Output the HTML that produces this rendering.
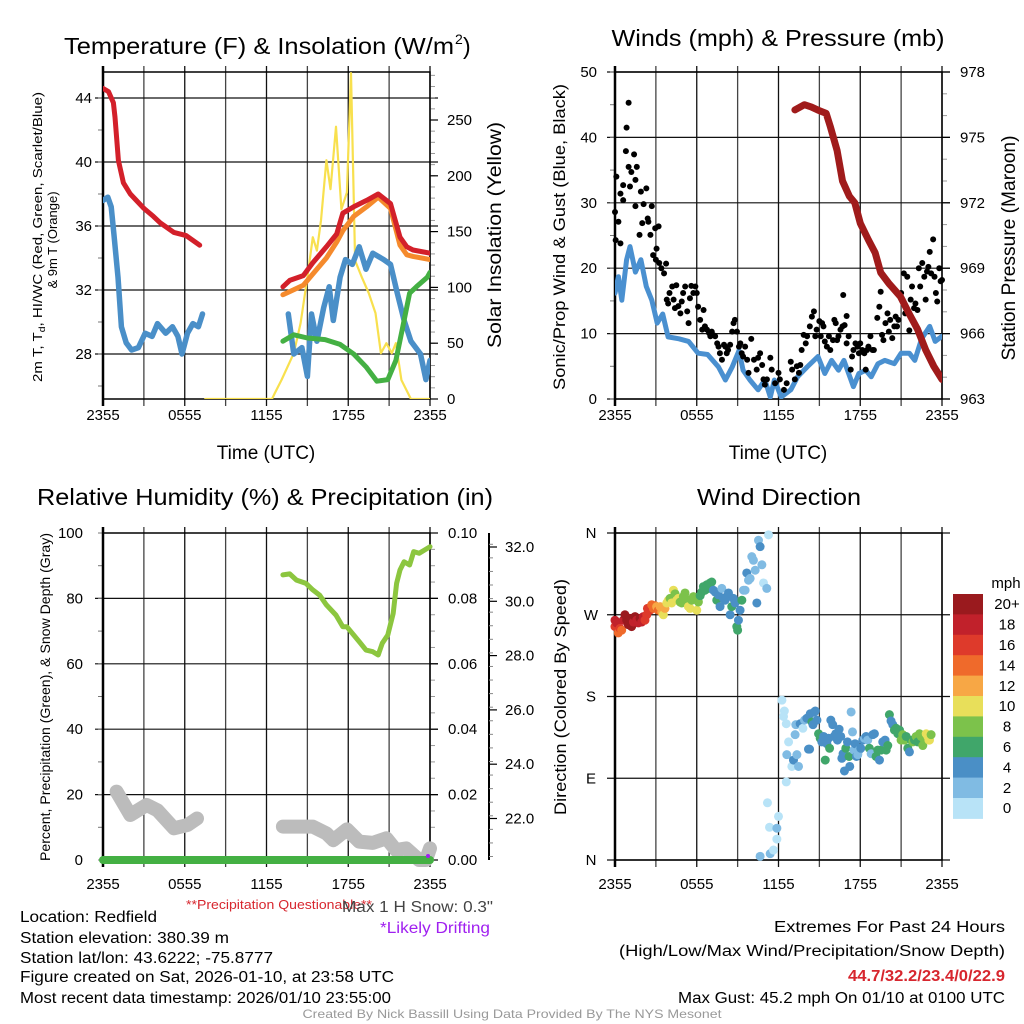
<!DOCTYPE html>
<html><head><meta charset="utf-8"><style>
html,body{margin:0;padding:0;background:#fff;}
svg{display:block;font-family:"Liberation Sans",sans-serif;}
</style></head><body>
<svg id="root" xmlns="http://www.w3.org/2000/svg" width="1024" height="1024" viewBox="0 0 1024 1024">
<defs>
<clipPath id="c1"><rect x="103" y="72" width="327" height="327"/></clipPath>
<clipPath id="c2"><rect x="615" y="72" width="327" height="327"/></clipPath>
<clipPath id="c3"><rect x="96" y="533" width="345" height="340"/></clipPath>
<clipPath id="c4"><rect x="608" y="526" width="341" height="341"/></clipPath>
</defs>
<g id="g1"></g>
<g id="g2"></g>
<g id="g3"></g>
<g id="g4"></g>

<text x="64" y="54" font-size="23" textLength="390" lengthAdjust="spacingAndGlyphs">Temperature (F) &amp; Insolation (W/m</text>
<text x="455" y="44" font-size="14">2</text>
<text x="463" y="54" font-size="23">)</text>
<text x="778" y="46" font-size="23" text-anchor="middle" textLength="333" lengthAdjust="spacingAndGlyphs">Winds (mph) &amp; Pressure (mb)</text>
<text x="265" y="505" font-size="23" text-anchor="middle" textLength="456" lengthAdjust="spacingAndGlyphs">Relative Humidity (%) &amp; Precipitation (in)</text>
<text x="779" y="505" font-size="23" text-anchor="middle" textLength="164" lengthAdjust="spacingAndGlyphs">Wind Direction</text>

<text transform="translate(42,237) rotate(-90)" font-size="13" text-anchor="middle" textLength="290" lengthAdjust="spacingAndGlyphs">2m T, T<tspan font-size="9" dy="3">d</tspan><tspan dy="-3">, HI/WC (Red, Green, Scarlet/Blue)</tspan></text>
<text transform="translate(57,240) rotate(-90)" font-size="13" text-anchor="middle">&amp; 9m T (Orange)</text>
<text transform="translate(501,235) rotate(-90)" font-size="19" text-anchor="middle" textLength="226" lengthAdjust="spacingAndGlyphs">Solar Insolation (Yellow)</text>
<text transform="translate(565,237) rotate(-90)" font-size="17" text-anchor="middle" textLength="306" lengthAdjust="spacingAndGlyphs">Sonic/Prop Wind &amp; Gust (Blue, Black)</text>
<text transform="translate(1015,248) rotate(-90)" font-size="19" text-anchor="middle" textLength="225" lengthAdjust="spacingAndGlyphs">Station Pressure (Maroon)</text>
<text transform="translate(50,697) rotate(-90)" font-size="14" text-anchor="middle" textLength="328" lengthAdjust="spacingAndGlyphs">Percent, Precipitation (Green), &amp; Snow Depth (Gray)</text>
<text transform="translate(566,697) rotate(-90)" font-size="17" text-anchor="middle" textLength="236" lengthAdjust="spacingAndGlyphs">Direction (Colored By Speed)</text>
<text x="266" y="459" font-size="19" text-anchor="middle">Time (UTC)</text>
<text x="778" y="459" font-size="19" text-anchor="middle">Time (UTC)</text>

<g font-size="15.5">
<text x="20" y="922" textLength="137" lengthAdjust="spacingAndGlyphs">Location: Redfield</text>
<text x="20" y="943" textLength="209" lengthAdjust="spacingAndGlyphs">Station elevation: 380.39 m</text>
<text x="20" y="963" textLength="253" lengthAdjust="spacingAndGlyphs">Station lat/lon: 43.6222; -75.8777</text>
<text x="20" y="982" textLength="374" lengthAdjust="spacingAndGlyphs">Figure created on Sat, 2026-01-10, at 23:58 UTC</text>
<text x="20" y="1003" textLength="371" lengthAdjust="spacingAndGlyphs">Most recent data timestamp: 2026/01/10 23:55:00</text>
</g>
<text x="186" y="909" font-size="12.5" fill="#d7262e" textLength="186" lengthAdjust="spacingAndGlyphs">**Precipitation Questionable**</text>
<text x="342" y="912" font-size="15.5" fill="#444" textLength="151" lengthAdjust="spacingAndGlyphs">Max 1 H Snow: 0.3"</text>
<text x="380" y="933" font-size="15.5" fill="#a020f0" textLength="110" lengthAdjust="spacingAndGlyphs">*Likely Drifting</text>
<g font-size="15.5" text-anchor="end">
<text x="1005" y="932" textLength="231" lengthAdjust="spacingAndGlyphs">Extremes For Past 24 Hours</text>
<text x="1005" y="956" textLength="386" lengthAdjust="spacingAndGlyphs">(High/Low/Max Wind/Precipitation/Snow Depth)</text>
<text x="1005" y="981" font-weight="bold" fill="#d7262e" textLength="157" lengthAdjust="spacingAndGlyphs">44.7/32.2/23.4/0/22.9</text>
<text x="1005" y="1003" textLength="327" lengthAdjust="spacingAndGlyphs">Max Gust: 45.2 mph On 01/10 at 0100 UTC</text>
</g>
<text x="512" y="1018" font-size="12" fill="#999" text-anchor="middle" textLength="419" lengthAdjust="spacingAndGlyphs">Created By Nick Bassill Using Data Provided By The NYS Mesonet</text>
</svg>
<script>
// ===== Panel 1 data =====
const tempH1 = [0,0.4,0.76,0.88,1.13,1.5,2.0,3.0,3.7,4.2,5.2,6.1,7.1];
const tempV1 = [44.6,44.4,43.7,42.8,40.1,38.7,38.0,37.1,36.6,36.2,35.6,35.4,34.8];
const tempH2 = [13.2,13.7,14.7,15.4,16.4,17.15,17.6,18.4,19.35,20.2,21.1,21.8,22.3,22.75,24];
const tempV2 = [32.2,32.6,32.9,33.7,34.7,35.5,36.8,37.2,37.6,38.0,37.4,35.3,34.7,34.5,34.3];
const t9mV2 = [31.7,31.9,32.3,33.0,34.0,35.0,35.7,36.6,37.2,37.8,37.1,34.8,34.2,34.1,33.9];
const dewH1 = [0,0.35,0.6,0.8,1.1,1.35,1.7,2.1,2.6,3.1,3.6,4.0,4.6,5.1,5.5,5.8,6.2,6.6,7.0,7.3];
const dewV1 = [37.6,37.8,37.2,35.5,32.8,29.7,28.7,28.25,28.4,29.3,29.1,29.9,29.3,29.7,29.1,28.0,29.3,29.9,29.7,30.5];
const dewH2 = [13.6,14.0,14.6,15.0,15.3,15.7,16.2,16.6,16.9,17.4,17.8,18.3,18.8,19.3,19.8,20.6,21.1,21.6,22.1,22.6,23.3,23.7,24];
const dewV2 = [30.5,28.0,28.4,26.6,30.5,28.8,30.9,32.2,30.1,32.8,33.9,33.6,34.7,33.3,34.3,33.9,33.6,31.8,30.1,28.8,28.0,26.4,27.6];
const hiwcH = [13.2,14.0,15.0,16.3,17.4,18.4,19.3,20.1,20.9,21.5,22.0,22.5,23.0,23.8,24];
const hiwcV = [28.8,29.2,29.0,28.9,28.6,28.0,27.2,26.3,26.4,27.6,29.7,31.8,32.2,32.8,33.1];
const solarH = [7.5,12.4,12.6,13.1,14.0,14.5,15.0,15.4,15.7,16.0,16.4,16.7,17.1,17.5,17.9,18.2,18.5,19.0,19.5,20.0,20.4,20.8,21.2,21.5,21.9,22.6,24];
const solarV = [0,0,5,17,41,68,109,145,133,160,214,188,244,170,185,292,124,109,95,77,41,50,41,50,17,0,0];
const tempTicks = [28,32,36,40,44];
const solarTicks = [0,50,100,150,200,250];
const timeLabels = ['2355','0555','1155','1755','2355'];

// ===== Panel 2 data =====
const windH = [0,0.25,0.5,0.85,1.1,1.5,1.9,2.3,2.7,3.1,3.5,3.9,4.7,5.4,6.1,6.8,7.6,8.1,8.6,9.1,9.4,9.9,10.5,11.0,11.4,11.7,12.2,12.9,13.4,14.1,14.9,15.4,15.9,16.4,16.8,17.5,17.9,18.4,18.8,19.3,19.8,20.5,21.0,21.6,22.0,22.5,23.1,23.5,24];
const windV = [16.2,18.7,15.1,21.3,23.3,19.4,21.3,17.2,15.1,11.6,13.0,9.5,9.2,8.8,7.0,6.8,4.9,2.9,4.9,7.4,4.4,2.9,1.4,2.9,0.3,2.9,0.3,1.4,3.4,4.9,6.5,3.9,5.9,4.4,5.9,1.9,3.9,4.4,3.4,5.4,5.9,5.4,7.0,7.0,5.9,9.2,11.1,8.8,9.6];
const gustH = [0,0.05,0.1,0.25,0.4,0.4,0.6,0.6,0.8,0.85,1.0,1.0,1.1,1.2,1.4,1.5,1.5,1.6,1.8,1.9,2.0,2.1,2.3,2.4,2.45,2.6,2.7,2.8,2.95,3.0,3.05,3.2,3.25,3.4,3.6,3.75,3.8,3.9,4.0,4.2,4.3,4.4,4.5,4.65,4.8,4.9,5.0,5.15,5.3,5.4,5.5,5.6,5.75,5.9,6.0,6.1,6.25,6.4,6.5,6.6,6.75,6.9,7.0,7.1,7.2,7.35,7.5,7.6,7.7,7.85,8.0,8.1,8.2,8.3,8.45,8.6,8.7,8.8,8.95,9.1,9.2,9.3,9.4,9.55,9.7,9.8,10.0,10.2,10.4,10.5,10.65,10.8,10.9,11.0,11.15,11.4,11.5,11.75,12.0,12.1,12.4,12.6,12.9,13.0,13.2,13.35,13.5,13.6,13.7,13.85,14.0,14.1,14.3,14.45,14.6,14.7,14.8,15.0,15.1,15.2,15.3,15.4,15.55,15.7,15.8,16.0,16.1,16.2,16.3,16.4,16.55,16.7,16.75,16.85,17.0,17.0,17.15,17.3,17.4,17.5,17.65,17.8,17.9,18.0,18.15,18.3,18.4,18.5,18.6,18.75,18.9,19.0,19.25,19.4,19.5,19.6,19.7,19.85,20.0,20.1,20.2,20.35,20.5,20.6,20.7,20.8,21.0,21.1,21.2,21.3,21.45,21.6,21.7,21.8,21.95,22.05,22.2,22.3,22.4,22.55,22.7,22.8,22.9,23.0,23.1,23.2,23.35,23.45,23.55,23.65,23.8,23.9,24.0];
const gustV = [28.6,24.3,34,27.1,31.4,23.8,32.7,30.4,37.9,41.5,45.3,35.5,32.5,34.7,37.4,29.5,33.5,35.5,25.1,31.7,26.9,29.8,32.2,27.6,27.1,25.1,29.5,22.0,26.1,21.3,23.0,26.4,20.8,20.0,19.2,20.7,15.2,14.6,16.2,17.2,15.2,13.9,17.4,14.2,13.1,14.9,16.2,17.2,13.4,11.6,15.4,17.3,16.2,17.2,16.2,14.1,12.1,10.6,13.6,11.1,10.6,10.1,9.6,10.3,9.8,9.6,8.5,8.0,7.0,6.0,8.3,8.0,7.0,7.5,8.3,10.3,11.6,12.1,10.3,8.0,8.5,7.0,6.5,8.0,6.0,4.0,9.2,6.0,4.5,6.3,7.0,5.2,3.0,2.2,3.0,6.3,4.5,2.4,4.0,3.0,1.4,2.4,5.7,4.5,3.0,5.0,4.0,5.2,7.5,9.8,8.5,9.6,11.1,12.6,13.4,9.6,10.6,11.9,9.6,11.6,11.1,8.8,8.0,9.6,7.5,9.0,12.1,11.6,9.0,9.6,10.6,11.1,15.9,11.3,12.7,8.5,9.6,4.5,6.5,7.5,8.5,8.0,7.0,8.5,7.5,7.0,4.5,7.5,8.0,9.6,7.5,7.5,12.4,14.1,16.4,9.8,9.0,11.6,13.1,10.3,12.1,9.3,11.1,12.6,11.1,12.1,16.2,15.2,19.2,13.1,18.7,10.5,15.2,17.2,13.9,14.6,13.6,20.0,17.2,20.8,18.7,15.2,19.5,20.2,22.5,19.2,24.4,18.7,16.2,14.9,20.0,18.0,18.2];
const presH = [13.2,13.9,14.4,14.9,15.5,15.8,16.3,16.7,17.2,17.6,18.0,18.6,19.1,19.5,20.1,20.95,21.6,22.2,22.8,23.4,24];
const presV = [976.26,976.5,976.4,976.25,976.1,975.5,974.4,973.0,972.3,972.0,971.06,970.3,969.7,968.8,968.3,967.7,966.9,966.2,965.25,964.5,963.9];
const windTicks = [0,10,20,30,40,50];
const presTicks = [963,966,969,972,975,978];

// ===== Panel 3 data =====
const rhH = [13.2,13.7,14.2,14.9,15.4,15.9,16.4,17.1,17.6,17.9,18.4,18.8,19.3,19.8,20.2,20.5,20.9,21.3,21.55,21.8,22.1,22.5,22.8,23.2,23.6,24];
const rhV = [87.2,87.5,85.6,84.6,82.6,81.0,78.0,74.9,71.3,71.3,68.8,66.8,64.2,63.7,62.7,66.3,68.8,75.4,84.6,88.7,91.2,90.2,94.3,93.8,94.8,95.8];
const snowH1 = [1.0,2.0,3.2,4.0,5.2,6.2,6.9];
const snowV1 = [22.99,22.13,22.5,22.3,21.64,21.76,22.0];
const snowH2 = [13.2,15.4,16.4,16.9,17.9,18.8,19.8,20.8,21.5,22.25,23.2,23.7,24];
const snowV2 = [21.7,21.7,21.45,21.2,21.6,21.15,21.1,21.27,20.84,20.9,20.47,20.47,20.9];
const precipH = [0,24];
const precipV = [0,0];
const rhTicks = [0,20,40,60,80,100];
const precipTicks = [0,0.02,0.04,0.06,0.08,0.10];
const snowTicks = [22,24,26,28,30,32];

// ===== Panel 4 data =====
const dirH = [0,0,0.12,0.24,0.37,0.49,0.61,0.73,0.86,0.98,1.10,1.22,1.35,1.47,1.59,1.71,1.84,1.96,2.08,2.2,2.33,2.38,2.57,2.69,2.82,2.94,3.06,3.18,3.31,3.43,3.55,3.67,3.80,3.92,4.04,4.16,4.29,4.41,4.53,4.65,4.78,4.9,5.02,5.14,5.27,5.39,5.51,5.63,5.76,5.88,6.0,6.12,6.25,6.37,6.49,6.61,6.74,6.86,6.98,7.1,7.22,7.35,7.47,7.59,7.71,7.84,7.96,8.08,8.2,8.33,8.45,8.57,8.69,8.82,8.94,9.0,9.06,9.18,9.31,9.43,9.55,9.67,9.8,9.92,10.04,10.16,10.29,10.41,10.53,10.65,10.78,10.9,11.14,11.27,
 10.65,11.39,11.63,11.19,11.34,11.88,11.88,12.0,12.57,
 12.25,12.43,12.37,12.57,12.74,12.61,12.98,13.1,13.22,13.27,13.35,13.47,13.59,13.79,13.91,14.08,14.2,14.28,14.33,14.45,14.53,14.63,14.7,14.82,14.94,15.06,15.18,15.31,15.43,15.55,15.67,15.75,15.84,15.98,16.08,16.2,16.33,16.45,16.57,16.65,16.74,16.84,16.94,17.06,17.18,17.23,17.33,17.43,17.53,17.62,17.72,17.82,17.92,18.04,18.19,18.31,18.43,18.55,18.67,18.8,18.92,19.04,19.16,19.29,19.41,19.53,19.65,19.82,19.9,20.02,20.14,20.26,20.39,20.51,20.63,20.76,20.88,21.0,21.12,21.25,21.37,21.49,21.61,21.74,21.86,21.98,22.1,22.22,22.35,22.47,22.59,22.71,22.84,22.96,23.04,23.08,23.2];
const dirV = [264,257,261,250,255,253,264,270,264,259,266,257,262,268,264,261,266,262,268,264,270,277,275,281,277,280,279,275,279,273,270,277,283,286,288,283,297,293,286,288,284,283,290,294,287,279,277,286,290,288,275,284,291,295,301,297,303,299,305,306,297,295,286,292,279,299,288,286,290,294,270,279,288,283,257,253,264,275,286,297,297,316,308,310,334,330,319,283,352,345,325,305,299,358,
 4,7,11,63,36,35,23,48,86,
 176,164,158,150,130,116,103,110,138,149,116,103,150,145,154,156,122,122,161,152,149,163,164,154,139,134,130,136,110,128,134,123,154,149,136,139,132,144,136,112,117,98,123,130,114,103,163,141,121,128,114,116,121,123,132,134,136,132,123,117,138,139,114,121,110,121,130,132,121,126,160,153,149,143,145,139,143,132,138,132,136,123,119,132,130,132,136,130,139,136,126,132,139,136,132,132,138,134,139,130,153,139,153];
const dirS = [18,16,18,14,16,14,18,20,20,20,20,20,18,20,18,18,20,18,18,16,16,16,16,14,14,14,12,14,12,12,10,12,10,10,8,10,10,8,10,10,8,8,8,8,8,10,10,8,8,8,10,8,6,6,6,6,6,6,6,6,4,4,6,4,4,2,4,4,4,4,4,6,4,4,6,6,4,4,6,2,2,4,2,2,2,2,2,4,2,4,2,0,2,0,
 2,2,0,0,0,2,0,0,0,
 0,0,0,0,0,2,0,4,2,2,2,2,4,0,2,4,4,4,4,6,4,4,4,4,6,6,4,4,6,4,4,6,4,4,4,4,4,4,4,4,4,4,6,4,6,4,2,2,2,4,4,2,2,4,4,2,4,2,6,2,4,4,6,6,4,6,4,4,6,6,6,4,4,6,6,6,6,8,8,8,6,6,4,6,8,6,8,6,8,8,8,8,10,10,10,10,8,10,8,8,8,10,8];
const dirLabels = ['N','E','S','W','N'];
const dirTickVals = [0,90,180,270,360];
const speedBins = [20,18,16,14,12,10,8,6,4,2,0];
const speedLabels = ['20+','18','16','14','12','10','8','6','4','2','0'];
const speedColors = ['#9a1a1e','#c1212b','#de3a2b','#ef6a2b','#f7a745','#e8df5a','#7cc24b','#40a66a','#4a8fc6','#80bbe3','#b8e3f7'];

// ===== helpers =====
const NS='http://www.w3.org/2000/svg';
function mk(parent,tag,attrs,txt){const e=document.createElementNS(NS,tag);for(const k in attrs)e.setAttribute(k,attrs[k]);if(txt!==undefined)e.textContent=txt;parent.appendChild(e);return e;}
const g1=document.getElementById('g1'),g2=document.getElementById('g2'),g3=document.getElementById('g3'),g4=document.getElementById('g4');
const HX=13.625;
const x1=h=>103+h*HX, x2=h=>615+h*HX;
const yT=t=>98+(44-t)*16, yS=s=>399-s*1.116;
const yW=w=>399-w*6.54, yP=p=>399-(p-963)*21.8;
const yRH=v=>860-v*3.27, yPr=v=>860-v*3270, ySn=s=>547+(32-s)*27.15;
const yD=d=>860-d*0.9083;
function pts(xs,ys,fx,fy){return xs.map((h,i)=>fx(h).toFixed(1)+','+fy(ys[i]).toFixed(1)).join(' ');}

function frame(g,L,T,R,B,hGrid,leftMinor,rightMinor){
  for(let h=0;h<=24;h+=3){const x=L+h*HX;
    const v=mk(g,'line',{x1:x,y1:T-6,x2:x,y2:B+7,stroke:(h%6==0?'#111':'#444'),'stroke-width':1.3});
    
    }
  hGrid.forEach(y=>{const l=mk(g,'line',{x1:L-8,y1:y,x2:R+8,y2:y,stroke:'#111','stroke-width':1.2});
    
    });
  (leftMinor||[]).forEach(y=>{const l=mk(g,'line',{x1:L-5,y1:y,x2:L,y2:y,stroke:'#777','stroke-width':1});
    
    });
  (rightMinor||[]).forEach(y=>{const l=mk(g,'line',{x1:R,y1:y,x2:R+5,y2:y,stroke:'#999','stroke-width':1});
    
    });
  const f=mk(g,'rect',{x:L,y:T,width:R-L,height:B-T,fill:'none',stroke:'#000','stroke-width':1.5});
  
  
  const sp=mk(g,'line',{x1:L,y1:T-6,x2:L,y2:B+7,stroke:'#000','stroke-width':2.5});
  
  
}
function xlabels(g,L,y){timeLabels.forEach((s,i)=>{const t=mk(g,'text',{x:L+i*6*HX,y:y,'font-size':15,'text-anchor':'middle'},s);
  
  });}
function line(g,clip,xs,ys,fx,fy,color,w,name){const p=mk(g,'polyline',{points:pts(xs,ys,fx,fy),fill:'none',stroke:color,'stroke-width':w,'stroke-linejoin':'round','stroke-linecap':'round','clip-path':'url(#'+clip+')'});
  
  
  return p;}
function range(a,b,s){const r=[];for(let v=a;v<=b+1e-9;v+=s)r.push(v);return r;}

// ===== Panel 1 =====
frame(g1,103,72,430,399,tempTicks.map(yT),range(26,44,2).map(yT),range(0,290,10).map(yS));
tempTicks.forEach(v=>{const t=mk(g1,'text',{x:92,y:yT(v)+5,'font-size':15,'text-anchor':'end'},v);
  
  });
solarTicks.forEach(v=>{const k=mk(g1,'line',{x1:430,y1:yS(v),x2:438,y2:yS(v),stroke:'#000','stroke-width':1.2});
  
  
  const t=mk(g1,'text',{x:447,y:yS(v)+5,'font-size':15},v);
  
  });
xlabels(g1,103,420);
line(g1,'c1',solarH,solarV,x1,yS,'#f8e04e',2.2,'solar-line');
line(g1,'c1',dewH1,dewV1,x1,yT,'#4a8fc8',5.5,'dewpoint-line-1');
line(g1,'c1',dewH2,dewV2,x1,yT,'#4a8fc8',5.5,'dewpoint-line-2');
line(g1,'c1',hiwcH,hiwcV,x1,yT,'#44b043',5,'heat-index-line');
line(g1,'c1',tempH2,t9mV2,x1,yT,'#f58a2c',5,'temp-9m-line');
line(g1,'c1',tempH1,tempV1,x1,yT,'#d3202a',5,'temp-2m-line-1');
line(g1,'c1',tempH2,tempV2,x1,yT,'#d3202a',5,'temp-2m-line-2');

// ===== Panel 2 =====
frame(g2,615,72,942,399,windTicks.map(yW),range(0,50,5).map(yW),range(963,978,1).map(yP));
windTicks.forEach(v=>{const t=mk(g2,'text',{x:597,y:yW(v)+5,'font-size':15,'text-anchor':'end'},v);
  
  });
presTicks.forEach(v=>{const k=mk(g2,'line',{x1:942,y1:yP(v),x2:950,y2:yP(v),stroke:'#000','stroke-width':1.2});
  
  
  const t=mk(g2,'text',{x:960,y:yP(v)+5,'font-size':15},v);
  
  });
xlabels(g2,615,420);
line(g2,'c2',windH,windV,x2,yW,'#4a90d0',5,'wind-speed-line');
gustH.forEach((h,i)=>{const c=mk(g2,'circle',{cx:x2(h),cy:yW(gustV[i]),r:3,fill:'#000'});
  
  });
line(g2,'c2',presH,presV,x2,yP,'#a01b1b',7,'pressure-line');

// ===== Panel 3 =====
frame(g3,103,533,430,860,rhTicks.slice(1,5).map(yRH),range(0,100,10).map(yRH),range(0,0.1,0.005).map(yPr));
rhTicks.forEach(v=>{const t=mk(g3,'text',{x:83,y:yRH(v)+5,'font-size':15,'text-anchor':'end'},v);
  
  });
precipTicks.forEach(v=>{const k=mk(g3,'line',{x1:430,y1:yPr(v),x2:438,y2:yPr(v),stroke:'#000','stroke-width':1.2});
  
  
  const t=mk(g3,'text',{x:448,y:yPr(v)+5,'font-size':15},v.toFixed(2));
  
  });
const sa=mk(g3,'line',{x1:489,y1:533,x2:489,y2:860,stroke:'#000','stroke-width':2});


range(20.6,32.4,0.5).forEach(v=>{const k=mk(g3,'line',{x1:489,y1:ySn(v),x2:493,y2:ySn(v),stroke:'#888','stroke-width':1});
  
  });
snowTicks.forEach(v=>{const k=mk(g3,'line',{x1:489,y1:ySn(v),x2:497,y2:ySn(v),stroke:'#000','stroke-width':1.2});
  
  
  const t=mk(g3,'text',{x:505,y:ySn(v)+5,'font-size':15},v.toFixed(1));
  
  });
xlabels(g3,103,889);
line(g3,'c3',snowH1,snowV1,x1,ySn,'#bcbcbc',14,'snow-depth-line-1');
line(g3,'c3',snowH2,snowV2,x1,ySn,'#bcbcbc',14,'snow-depth-line-2');
line(g3,'c3',precipH,precipV,x1,yPr,'#44b043',8,'precip-line');
line(g3,'c3',rhH,rhV,x1,yRH,'#8cc63f',5,'rh-line');
const pd=mk(g3,'circle',{cx:x1(24)-2,cy:yPr(0.0003)-3,r:2,fill:'#a020f0'});



// ===== Panel 4 =====
frame(g4,615,533,942,860,dirTickVals.map(yD),[],[]);
dirLabels.forEach((s,i)=>{const t=mk(g4,'text',{x:591,y:yD(dirTickVals[i])+5,'font-size':15,'text-anchor':'middle'},s);
  
  });
xlabels(g4,615,889);
function sc(s){let i=speedBins.findIndex(b=>s>=b);return speedColors[i<0?10:i];}
dirH.forEach((h,i)=>{const c=mk(g4,'circle',{cx:x2(h),cy:yD(dirV[i]),r:4.5,fill:sc(dirS[i]),'clip-path':'url(#c4)'});
  
  });
const cbT=594,cbH=20.4;
const mph=mk(g4,'text',{x:1006,y:588,'font-size':15,'text-anchor':'middle'},'mph');


speedColors.forEach((c,i)=>{const r=mk(g4,'rect',{x:953,y:cbT+i*cbH,width:30,height:cbH+0.5,fill:c});
  
  
  const t=mk(g4,'text',{x:1007,y:cbT+i*cbH+cbH/2+5,'font-size':15,'text-anchor':'middle'},speedLabels[i]);
  
  });
</script>
</body></html>
